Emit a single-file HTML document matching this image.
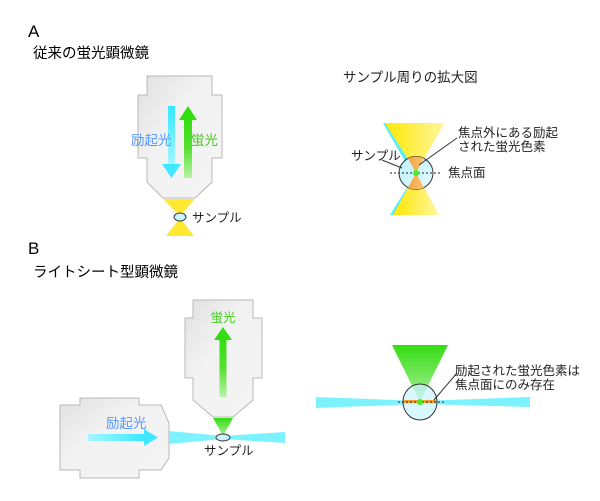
<!DOCTYPE html>
<html><head><meta charset="utf-8"><style>
html,body{margin:0;padding:0;background:#fff}
svg{display:block}
text{font-family:"Liberation Sans","Noto Sans CJK JP",sans-serif}
</style></head><body>
<svg width="600" height="501" viewBox="0 0 600 501" xmlns="http://www.w3.org/2000/svg">
<defs>
<linearGradient id="body" x1="0" y1="0" x2="1" y2="1">
<stop offset="0" stop-color="#e0e0e0"/><stop offset="0.4" stop-color="#f2f2f2"/><stop offset="1" stop-color="#f4f4f4"/>
</linearGradient>
<linearGradient id="cyanV" x1="0" y1="0" x2="0" y2="1">
<stop offset="0" stop-color="#33e8ff"/><stop offset="1" stop-color="#a8f6ff"/>
</linearGradient>
<linearGradient id="greenV" x1="0" y1="1" x2="0" y2="0">
<stop offset="0" stop-color="#b8f2a8"/><stop offset="0.5" stop-color="#55e030"/><stop offset="1" stop-color="#33dd11"/>
</linearGradient>
<linearGradient id="cyanH" x1="0" y1="0" x2="1" y2="0">
<stop offset="0" stop-color="#a8f6ff"/><stop offset="1" stop-color="#33e8ff"/>
</linearGradient>
<linearGradient id="yel" x1="0" y1="0" x2="1" y2="0">
<stop offset="0" stop-color="#ffe800"/><stop offset="1" stop-color="#fff6a0"/>
</linearGradient>
<linearGradient id="orng" x1="0" y1="0" x2="1" y2="0">
<stop offset="0" stop-color="#f09020"/><stop offset="1" stop-color="#ffd890"/>
</linearGradient>
<linearGradient id="grnCone" x1="0" y1="0" x2="0" y2="1">
<stop offset="0" stop-color="#33dd11"/><stop offset="1" stop-color="#b0f0a0"/>
</linearGradient>
<linearGradient id="samp" x1="0" y1="0" x2="1" y2="1">
<stop offset="0" stop-color="#b8f2ff"/><stop offset="1" stop-color="#e6fbff"/>
</linearGradient>
</defs>

<text x="28" y="37" font-size="17">A</text>
<text x="33" y="58" font-size="14.5">従来の蛍光顕微鏡</text>
<text x="28" y="254" font-size="17">B</text>
<text x="33" y="277" font-size="14.5">ライトシート型顕微鏡</text>

<!-- A microscope -->
<path d="M147,76 H212 V95 H222 V158 H212 V182 L195,198 H163 L147,182 V158 H138 V95 H147 Z" fill="url(#body)" stroke="#b8b8b8" stroke-width="1"/>
<polygon points="163,199 195,199 180,216" fill="#ffe830"/>
<polygon points="180,218 166,236 194,236" fill="#ffe830"/>
<ellipse cx="180" cy="217" rx="6" ry="4" fill="#c8f4ff" stroke="#333" stroke-width="1"/>
<text x="192" y="222" font-size="12.5" fill="#222">サンプル</text>
<rect x="168" y="106" width="7" height="60" fill="url(#cyanV)"/>
<polygon points="162,164 181,164 171.5,178" fill="#40e8ff"/>
<polygon points="179,120 197,120 188,106" fill="#33dd11"/>
<rect x="184" y="119" width="8" height="59" fill="url(#greenV)"/>
<text x="131" y="145" font-size="13.5" fill="#5599ff">励起光</text>
<text x="191" y="145" font-size="13.5" fill="#44cc22">蛍光</text>

<!-- A zoom -->
<polygon points="383,123 389,123 416,172 411,172" fill="#55eeff"/>
<polygon points="385,123 445,123 416,172" fill="url(#yel)"/>
<polygon points="416,173 390,215 395,215" fill="#55eeff"/>
<polygon points="416,173 393,215 439,215" fill="url(#yel)"/>
<ellipse cx="416" cy="173" rx="17" ry="16.5" fill="url(#samp)" stroke="#333" stroke-width="1"/>
<clipPath id="ec"><ellipse cx="416" cy="173" rx="17" ry="16.5"/></clipPath>
<g clip-path="url(#ec)">
<polygon points="398,140 434,140 416,173" fill="url(#orng)"/>
<polygon points="416,173 398,206 434,206" fill="url(#orng)"/>
</g>
<line x1="390" y1="173" x2="442" y2="173" stroke="#222" stroke-width="1" stroke-dasharray="2,2"/>
<circle cx="416" cy="173" r="3" fill="#44ee22"/>
<line x1="419" y1="165" x2="457" y2="138" stroke="#333" stroke-width="1"/>
<line x1="382" y1="160" x2="402" y2="168" stroke="#333" stroke-width="1"/>
<text x="351" y="160" font-size="12.5" fill="#222">サンプル</text>
<text x="458" y="137" font-size="12.5" fill="#222">焦点外にある励起</text>
<text x="458" y="151" font-size="12.5" fill="#222">された蛍光色素</text>
<text x="448" y="177" font-size="12.5" fill="#222">焦点面</text>
<text x="343" y="82" font-size="13.5" fill="#222">サンプル周りの拡大図</text>

<!-- B vertical microscope -->
<path d="M193,300 H253 V318 H262 V378 H253 V400 L233,417 H213 L193,400 V378 H185 V318 H193 Z" fill="url(#body)" stroke="#b8b8b8" stroke-width="1"/>
<polygon points="213,418 233,418 223,436" fill="url(#grnCone)"/>
<polygon points="214,340 232,340 223,327" fill="#33dd11"/>
<rect x="219.5" y="339" width="7" height="58" fill="url(#greenV)"/>
<text x="223" y="322" font-size="12.5" fill="#44cc22" text-anchor="middle">蛍光</text>

<!-- B left microscope -->
<path d="M80,398 H139 V405 H161 L169,423 V458 L161,470 H139 V478 H80 V470 H60 V405 H80 Z" fill="url(#body)" stroke="#b8b8b8" stroke-width="1"/>
<rect x="88" y="434" width="58" height="7" fill="url(#cyanH)"/>
<polygon points="144,429 158,437.5 144,446" fill="#40e8ff"/>
<text x="106" y="428" font-size="13.5" fill="#5599ff">励起光</text>
<polygon points="169,431 223,436 223,439 169,444" fill="#66f0ff" opacity="0.85"/>
<polygon points="223,436 285,432 285,443 223,439" fill="#66f0ff" opacity="0.85"/>
<ellipse cx="223" cy="437.5" rx="7" ry="3.5" fill="#c8f4ff" stroke="#333" stroke-width="1"/>
<text x="204" y="455" font-size="12.5" fill="#222">サンプル</text>

<!-- B zoom -->
<polygon points="316,397 420,401 420,404 316,408" fill="#66f0ff" opacity="0.85"/>
<polygon points="420,401 530,397 530,407 420,404" fill="#66f0ff" opacity="0.85"/>
<polygon points="392,345 448,345 420,402" fill="url(#grnCone)"/>
<ellipse cx="420" cy="402" rx="17" ry="18" fill="#c8f4ff" fill-opacity="0.7" stroke="#333" stroke-width="1"/>
<rect x="404" y="400" width="32" height="3" fill="#f0a030"/>
<line x1="398" y1="402" x2="445" y2="402" stroke="#222" stroke-width="1" stroke-dasharray="2,2"/>
<circle cx="420" cy="402" r="3" fill="#44ee22"/>
<line x1="434" y1="400" x2="457" y2="373" stroke="#333" stroke-width="1"/>
<text x="455" y="375" font-size="12.5" fill="#222">励起された蛍光色素は</text>
<text x="455" y="389" font-size="12.5" fill="#222">焦点面にのみ存在</text>
</svg>
</body></html>
